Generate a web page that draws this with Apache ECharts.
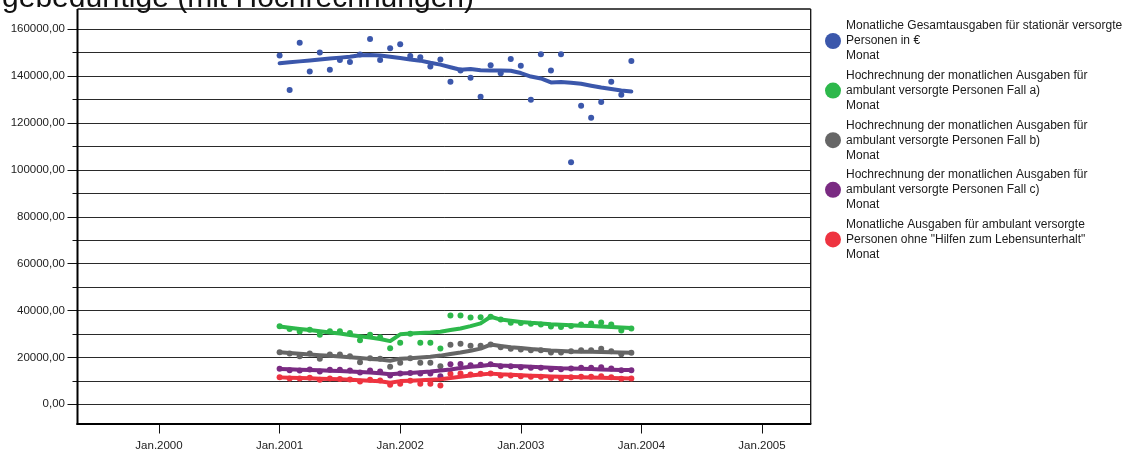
<!DOCTYPE html>
<html>
<head>
<meta charset="utf-8">
<script src="https://cdn.jsdelivr.net/npm/echarts@6/dist/echarts.min.js"></script>
<style>
  html, body { margin: 0; padding: 0; background: #fff; }
  #chart { width: 1130px; height: 452px; }
</style>
</head>
<body>
<div id="chart"></div>
<script>
// Monthly observations, January 2001 to December 2003
const months = [
  '2001-01','2001-02','2001-03','2001-04','2001-05','2001-06','2001-07','2001-08','2001-09','2001-10','2001-11','2001-12',
  '2002-01','2002-02','2002-03','2002-04','2002-05','2002-06','2002-07','2002-08','2002-09','2002-10','2002-11','2002-12',
  '2003-01','2003-02','2003-03','2003-04','2003-05','2003-06','2003-07','2003-08','2003-09','2003-10','2003-11','2003-12'
];

const xTickLabels = ['Jan.2000', 'Jan.2001', 'Jan.2002', 'Jan.2003', 'Jan.2004', 'Jan.2005'];

const seriesNames = [
  'Monatliche Gesamtausgaben für stationär versorgte\nPersonen in €\nMonat',
  'Hochrechnung der monatlichen Ausgaben für\nambulant versorgte Personen Fall a)\nMonat',
  'Hochrechnung der monatlichen Ausgaben für\nambulant versorgte Personen Fall b)\nMonat',
  'Hochrechnung der monatlichen Ausgaben für\nambulant versorgte Personen Fall c)\nMonat',
  'Monatliche Ausgaben für ambulant versorgte\nPersonen ohne "Hilfen zum Lebensunterhalt"\nMonat'
];

const seriesColors = ['#3b57ab', '#2db84b', '#666666', '#7a2b82', '#ee3340'];

// Monthly values (points)
const stationaerWerte = [
  148770, 134030, 154300, 141950, 150050, 142680, 146930, 146080, 149200, 155880, 146930, 151920,
  153620, 148600, 148080, 144080, 147060, 137560, 142400, 139270, 131180, 144670, 141270, 147360,
  144380, 129900, 149360, 142400, 149360, 103200, 127340, 122230, 128920, 137560, 132030, 146510
];
const fallAWerte = [
  33140, 32000, 30870, 31600, 29460, 31000, 31000, 30300, 27160, 29460, 28440, 23740,
  26050, 29900, 26050, 26050, 23610, 37700, 37700, 36900, 37000, 37150, 36000, 34600,
  34500, 34200, 33900, 33000, 32800, 33300, 33860, 34290, 34700, 33860, 31300, 32150
];
const fallBWerte = [
  22030, 21500, 20330, 21480, 19210, 21050, 21050, 20330, 17760, 19470, 19210, 15800,
  17510, 19500, 17510, 17510, 16060, 25190, 25620, 24800, 24800, 25320, 24170, 23490,
  23190, 22890, 22890, 21900, 21900, 22460, 22890, 22890, 23550, 22460, 21200, 21780
];
const fallCWerte = [
  14950, 14350, 14220, 14650, 13790, 14520, 14520, 14220, 13370, 14220, 13790, 12080,
  12940, 13200, 12940, 12940, 11790, 16900, 17000, 16500, 16700, 16910, 16060, 16060,
  15630, 15370, 15370, 14770, 14770, 15070, 15370, 15370, 15630, 15070, 14350, 14350
];
const ohneHLUWerte = [
  11360, 10800, 10800, 11100, 10250, 10800, 10600, 10380, 9520, 10250, 9950, 8110,
  8540, 9900, 8540, 8540, 7810, 12810, 12940, 12510, 12810, 12940, 12080, 12080,
  11790, 11530, 11530, 10930, 10930, 11360, 11530, 11530, 11790, 11360, 10680, 10800
];

// Trend curves (lines)
const stationaerTrend = [
  145500, 145900, 146300, 146700, 147100, 147500, 147900, 148300, 148900, 149000, 148800, 148300,
  147700, 147100, 146600, 145700, 144900, 143800, 142700, 143000, 142500, 142400, 142400, 142300,
  141300, 139800, 139000, 137300, 137500, 137200, 136700, 135900, 135100, 134500, 133900, 133400
];
const fallATrend = [
  33000, 32500, 32000, 31500, 31000, 30500, 30000, 29400, 28900, 28300, 27700, 26800,
  29700, 30000, 30300, 30500, 30800, 31500, 32200, 33200, 34400, 37200, 36000, 35500,
  35000, 34600, 34300, 34000, 33800, 33600, 33400, 33200, 33000, 32800, 32600, 32400
];
const fallBTrend = [
  22000, 21700, 21400, 21100, 20800, 20500, 20200, 19900, 19600, 19200, 18900, 18400,
  19300, 19500, 19800, 20100, 20600, 21300, 21900, 22700, 23600, 25300, 24700, 24200,
  23800, 23400, 23100, 22800, 22600, 22400, 22300, 22200, 22100, 22000, 21900, 21800
];
const fallCTrend = [
  14900, 14750, 14600, 14450, 14300, 14150, 14000, 13800, 13600, 13350, 13100, 12600,
  13000, 13200, 13500, 13800, 14200, 14700, 15300, 15800, 16200, 16700, 16400, 16200,
  16000, 15800, 15600, 15400, 15200, 15100, 15000, 14900, 14700, 14600, 14500, 14400
];
const ohneHLUTrend = [
  11300, 11150, 11000, 10900, 10750, 10600, 10450, 10250, 10050, 9850, 9600, 9000,
  9700, 9900, 10100, 10300, 10500, 11000, 11600, 12100, 12500, 12900, 12600, 12400,
  12200, 12000, 11850, 11700, 11550, 11450, 11350, 11250, 11150, 11050, 10950, 10850
];

const pointSets = [stationaerWerte, fallAWerte, fallBWerte, fallCWerte, ohneHLUWerte];
const trendSets = [stationaerTrend, fallATrend, fallBTrend, fallCTrend, ohneHLUTrend];

// month string -> months since January 2000
function monthIndex(m) {
  const [y, mo] = m.split('-').map(Number);
  return (y - 2000) * 12 + (mo - 1);
}
function pairs(values) {
  return months.map((m, i) => [monthIndex(m), values[i]]);
}

const FONT = '"Liberation Sans", Arial, Helvetica, sans-serif';

// plot frame (pixels)
const frame = { left: 77.5, right: 810.7, top: 9, bottom: 424 };
// value-axis placement: 0 and 160000 rows
const zeroY = 404.3, topY = 29.3;
// value at the frame's bottom edge, so the data grid can reach down to the x axis
const pxPerUnit = (zeroY - topY) / 160000;
const frameBottomValue = -(frame.bottom - zeroY) / pxPerUnit;

const series = [];
pointSets.forEach((vals, k) => {
  series.push({
    name: seriesNames[k],
    type: 'scatter',
    xAxisIndex: 1,
    yAxisIndex: 1,
    symbol: 'circle',
    symbolSize: 6,
    itemStyle: { color: seriesColors[k], opacity: 1 },
    data: pairs(vals),
    z: 3
  });
});
trendSets.forEach((vals, k) => {
  series.push({
    name: 'Trend ' + (k + 1),
    type: 'line',
    xAxisIndex: 1,
    yAxisIndex: 1,
    showSymbol: false,
    symbol: 'none',
    smooth: false,
    lineStyle: { color: seriesColors[k], width: 4, cap: 'round', join: 'round' },
    itemStyle: { color: seriesColors[k] },
    data: pairs(vals),
    z: 4
  });
});

const option = {
  animation: false,
  backgroundColor: '#ffffff',
  textStyle: { fontFamily: FONT },
  grid: [
    // full-width grid carrying the value axis and its grid lines
    { left: frame.left, right: 1130 - frame.right, top: topY, bottom: 452 - zeroY, containLabel: false },
    // data grid spanning Jan.2000 .. Jan.2005, reaching down to the frame bottom
    { left: 159, right: 1130 - 762, top: topY, bottom: 452 - frame.bottom, containLabel: false }
  ],
  xAxis: [
    { type: 'value', gridIndex: 0, min: 0, max: 1, show: false },
    {
      type: 'value',
      gridIndex: 1,
      position: 'bottom',
      min: 0,
      max: 60,
      interval: 12,
      axisLine: { show: false, onZero: false },
      axisTick: { show: true, inside: false, length: 10, lineStyle: { color: '#111', width: 1 } },
      axisLabel: {
        margin: 16.5,
        fontSize: 11.5,
        color: '#222',
        fontFamily: FONT,
        formatter: v => xTickLabels[Math.round(v / 12)] || ''
      },
      splitLine: { show: false }
    }
  ],
  yAxis: [
    {
      type: 'value',
      gridIndex: 0,
      min: 0,
      max: 160000,
      interval: 20000,
      axisLine: { show: false },
      axisTick: { show: true, length: 10, lineStyle: { color: '#111', width: 1 } },
      minorTick: { show: true, splitNumber: 2, length: 5, lineStyle: { color: '#111', width: 1 } },
      axisLabel: {
        margin: 12.5,
        fontSize: 11.5,
        color: '#222',
        fontFamily: FONT,
        formatter: v => v.toFixed(2).replace('.', ',')
      },
      splitLine: { show: true, lineStyle: { color: '#2a2a2a', width: 1 } },
      minorSplitLine: { show: true, lineStyle: { color: '#2a2a2a', width: 1 } }
    },
    { type: 'value', gridIndex: 1, min: frameBottomValue, max: 160000, show: false }
  ],
  legend: {
    data: seriesNames.map((n, k) => ({ name: n, icon: 'circle', itemStyle: { color: seriesColors[k], opacity: 1 } })),
    orient: 'vertical',
    left: 820,
    top: 13.5,
    itemWidth: 16,
    itemHeight: 16,
    itemGap: 4.6,
    selectedMode: false,
    textStyle: { fontSize: 12, lineHeight: 15, color: '#1a1a1a', fontFamily: FONT }
  },
  graphic: [
    {
      type: 'text',
      z: 10,
      style: {
        text: 'Pflegebedürftige (mit Hochrechnungen)',
        x: 474,
        y: 14,
        align: 'right',
        verticalAlign: 'bottom',
        font: '30px ' + FONT,
        fill: '#111'
      }
    },
    // plot frame
    { type: 'line', z: 10, shape: { x1: frame.left, y1: frame.top, x2: frame.left, y2: frame.bottom + 1 }, style: { stroke: '#000', lineWidth: 2 } },
    { type: 'line', z: 10, shape: { x1: frame.left - 1, y1: frame.bottom, x2: frame.right + 0.6, y2: frame.bottom }, style: { stroke: '#000', lineWidth: 2 } },
    { type: 'line', z: 10, shape: { x1: frame.left, y1: frame.top, x2: frame.right, y2: frame.top }, style: { stroke: '#111', lineWidth: 1.3 } },
    { type: 'line', z: 10, shape: { x1: frame.right, y1: frame.top, x2: frame.right, y2: frame.bottom }, style: { stroke: '#111', lineWidth: 1.3 } }
  ],
  series: series
};

const chart = echarts.init(document.getElementById('chart'), null, { renderer: 'canvas' });
chart.setOption(option);
</script>
</body>
</html>
